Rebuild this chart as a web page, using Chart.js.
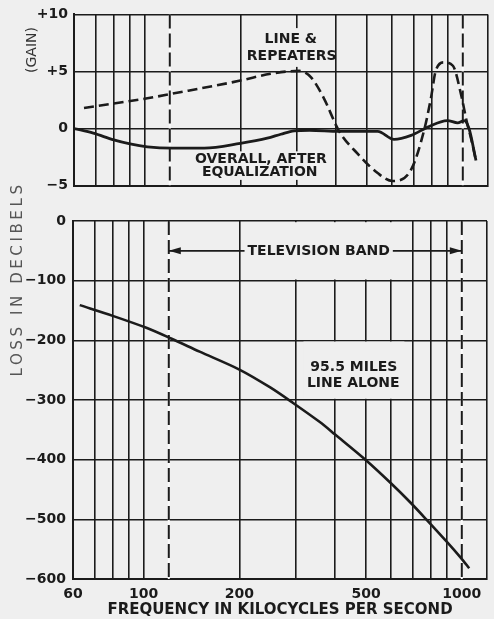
<!DOCTYPE html>
<html><head><meta charset="utf-8">
<script src="https://cdn.jsdelivr.net/npm/chart.js@4"></script>
<style>
html,body{margin:0;padding:0;background:#efefef;}
#wrap{position:relative;width:494px;height:619px;overflow:hidden;}
canvas{position:absolute;left:0;}
#top{top:0;}
#bot{top:170px;}
</style></head><body>
<div id="wrap"><canvas id="top" width="494" height="200"></canvas><canvas id="bot" width="494" height="449"></canvas></div>
<script>
// ---- data ----
const xGridValues = [60, 70, 80, 90, 100, 120, 200, 300, 400, 500, 600, 700, 800, 900, 1000, 1200];
const xLabelValues = [60, 100, 200, 500, 1000];
const bandEdges = [120, 1000];
const bandArrowLevel = -50;

const gainTickValues = [-5, 0, 5, 10];
const gainTickLabels = ['\u22125', '0', '+5', '+10'];
const lossTickValues = [-600, -500, -400, -300, -200, -100, 0];
const lossTickLabels = ['\u2212600', '\u2212500', '\u2212400', '\u2212300', '\u2212200', '\u2212100', '0'];

const lineRepFreq = [64.5, 80, 102, 122, 200, 249, 306, 333, 366, 408, 467, 540, 601, 688, 755, 794, 822, 873, 931, 989, 1028, 1060, 1100];
const lineRepGain = [1.8, 2.2, 2.65, 3.05, 4.2, 4.8, 5.05, 4.5, 2.65, -0.2, -2.2, -3.9, -4.6, -3.6, -0.2, 2.65, 5.05, 5.8, 5.5, 2.9, 0.65, -0.8, -2.8];

const overallFreq = [60, 69, 80, 90, 102, 122, 154, 200, 243, 268, 295, 330, 408, 540, 608, 688, 773, 894, 963, 1010, 1046, 1100];
const overallGain = [0, -0.4, -1.0, -1.35, -1.6, -1.72, -1.72, -1.3, -0.85, -0.5, -0.2, -0.15, -0.25, -0.25, -0.95, -0.6, 0.1, 0.7, 0.5, 0.7, 0.0, -2.8];

const lineAloneFreq = [63, 80, 102, 122, 150, 200, 250, 295, 358, 400, 500, 600, 687, 773, 895, 995, 1055];
const lineAloneLoss = [-141, -159, -179, -197, -219, -249, -279, -305, -337, -358, -401, -440, -471, -500, -537, -565, -582];

// ---- styling ----
const INK = '#1b1b1b';
const PAPER = '#efefef';
const FONT = "'DejaVu Sans', sans-serif";
Chart.defaults.font.family = FONT;
Chart.defaults.color = INK;

const pts = (xs, ys) => xs.map((v, i) => ({x: v, y: ys[i]}));

function markerSets(yMin, yMax) {
  const sets = [];
  bandEdges.forEach(f => {
    sets.push({data: [{x: f, y: yMax}, {x: f, y: yMin}], borderColor: INK, borderWidth: 2, borderDash: [14, 5], pointRadius: 0, order: 1});
    sets.push({data: [{x: f, y: yMax}, {x: f, y: yMin}], borderColor: '#fbfbfb', borderWidth: 2, pointRadius: 0, order: 2});
  });
  return sets;
}

function xScale(showLabels) {
  return {
    type: 'logarithmic', min: 60, max: 1200, position: 'bottom',
    afterBuildTicks: s => { s.ticks = xGridValues.map(v => ({value: v})); },
    grid: {color: c => (c.tick && bandEdges.includes(c.tick.value)) ? 'rgba(0,0,0,0)' : INK, lineWidth: 1.6, drawTicks: false},
    border: {color: INK, width: 2},
    ticks: {display: showLabels, autoSkip: false, maxRotation: 0, minRotation: 0, padding: 7,
      font: {size: 14, weight: 'bold'}, color: INK,
      callback: v => xLabelValues.includes(v) ? String(v) : ''},
    title: {display: showLabels, text: 'FREQUENCY IN KILOCYCLES PER SECOND', color: INK,
      font: {size: 15, weight: 'bold'}, padding: {top: 0, bottom: 0}},
    afterFit: s => { s.height = showLabels ? 40 : 11; }
  };
}

function yScale(min, max, vals, labels, width, pad) {
  return {
    min: min, max: max,
    afterBuildTicks: s => { s.ticks = vals.map(v => ({value: v})); },
    grid: {color: INK, lineWidth: 1.6, drawTicks: false},
    border: {color: INK, width: 2},
    ticks: {padding: pad, font: {size: 14, weight: 'bold'}, color: INK,
      callback: v => labels[vals.indexOf(v)]},
    afterFit: s => { s.width = width; }
  };
}

function decor(cfg) {
  return {
    id: 'decor',
    beforeDatasetsDraw(chart) {
      const {ctx, scales: {x, y}} = chart;
      ctx.save();
      ctx.fillStyle = PAPER;
      (cfg.boxes || []).forEach(b => {
        const l = x.getPixelForValue(b.x0), r = x.getPixelForValue(b.x1);
        const t = y.getPixelForValue(b.y1), bt = y.getPixelForValue(b.y0);
        ctx.fillRect(l, t, r - l, bt - t);
      });
      ctx.restore();
    },
    afterDatasetsDraw(chart) {
      const {ctx, scales: {x, y}} = chart;
      ctx.save();
      ctx.textAlign = 'center';
      ctx.textBaseline = 'middle';
      (cfg.texts || []).forEach(t => {
        ctx.font = 'bold 14px ' + FONT;
        const px = x.getPixelForValue(t.x), py = y.getPixelForValue(t.y);
        if (t.bg) {
          const w = ctx.measureText(t.text).width;
          ctx.fillStyle = PAPER;
          ctx.fillRect(px - w / 2 - t.bg, py - 7, w + 2 * t.bg, 14);
        }
        ctx.fillStyle = INK;
        ctx.fillText(t.text, px, py + 0.5);
      });
      (cfg.arrows || []).forEach(a => {
        const px = x.getPixelForValue(a.x), py = y.getPixelForValue(a.y);
        ctx.fillStyle = INK;
        ctx.beginPath();
        ctx.moveTo(px, py);
        ctx.lineTo(px - a.dir * 12, py - 3.5);
        ctx.lineTo(px - a.dir * 12, py + 3.5);
        ctx.closePath();
        ctx.fill();
      });
      ctx.restore();
    },
    afterDraw(chart) {
      const ctx = chart.ctx;
      (cfg.vtitles || []).forEach(t => {
        ctx.save();
        ctx.translate(t.cx, t.cy);
        ctx.rotate(-Math.PI / 2);
        ctx.font = t.font;
        ctx.letterSpacing = t.spacing || '0px';
        ctx.fillStyle = t.color;
        ctx.textAlign = 'center';
        ctx.textBaseline = 'middle';
        ctx.fillText(t.text, 0, 0);
        ctx.restore();
      });
    }
  };
}

// ---- top panel: gain ----
new Chart(document.getElementById('top'), {
  type: 'line',
  data: {datasets: [
    {label: 'Line & repeaters', data: pts(lineRepFreq, lineRepGain), borderColor: INK, borderWidth: 2.6,
      borderDash: [10, 5], pointRadius: 0, cubicInterpolationMode: 'monotone', order: 0},
    {label: 'Overall, after equalization', data: pts(overallFreq, overallGain), borderColor: INK, borderWidth: 2.8,
      pointRadius: 0, cubicInterpolationMode: 'monotone', order: 0},
    ...markerSets(-5, 10)
  ]},
  options: {
    responsive: false, animation: false, devicePixelRatio: 1,
    layout: {padding: {top: 13, right: 6, left: 0, bottom: 0}},
    plugins: {legend: {display: false}, tooltip: {enabled: false}},
    scales: {x: xScale(false), y: yScale(-5, 10, gainTickValues, gainTickLabels, 74, 6)}
  },
  plugins: [decor({
    boxes: [{x0: 206, x1: 395, y0: 5.4, y1: 8.8}, {x0: 140, x1: 392, y0: -4.5, y1: -2.0}],
    texts: [
      {text: 'LINE &', x: 288, y: 7.85},
      {text: 'REPEATERS', x: 290, y: 6.4},
      {text: 'OVERALL, AFTER', x: 232, y: -2.7},
      {text: 'EQUALIZATION', x: 230, y: -3.8}
    ],
    vtitles: [{text: '(GAIN)', cx: 32, cy: 50, font: '14px ' + FONT, color: '#333'}]
  })]
});

// ---- bottom panel: loss ----
new Chart(document.getElementById('bot'), {
  type: 'line',
  data: {datasets: [
    {label: '95.5 miles line alone', data: pts(lineAloneFreq, lineAloneLoss), borderColor: INK, borderWidth: 2.6,
      pointRadius: 0, tension: 0.3, order: 0},
    {label: 'Television band', data: bandEdges.map(f => ({x: f, y: bandArrowLevel})), borderColor: INK, borderWidth: 1.6,
      pointRadius: 0, order: 0},
    ...markerSets(-600, 0)
  ]},
  options: {
    responsive: false, animation: false, devicePixelRatio: 1,
    layout: {padding: {top: 51, right: 6, left: 0, bottom: 0}},
    plugins: {legend: {display: false}, tooltip: {enabled: false}},
    scales: {x: xScale(true), y: yScale(-600, 0, lossTickValues, lossTickLabels, 73, 7)}
  },
  plugins: [decor({
    boxes: [{x0: 206, x1: 660, y0: -98, y1: -2}, {x0: 318, x1: 660, y0: -298, y1: -202}],
    texts: [
      {text: 'TELEVISION BAND', x: 355, y: bandArrowLevel, bg: 3},
      {text: '95.5 MILES', x: 458, y: -245},
      {text: 'LINE ALONE', x: 456, y: -272}
    ],
    arrows: [{x: bandEdges[0], y: bandArrowLevel, dir: -1}, {x: bandEdges[1], y: bandArrowLevel, dir: 1}],
    vtitles: [{text: 'LOSS IN DECIBELS', cx: 18, cy: 109, font: '15px ' + FONT, color: '#555', spacing: '3.6px'}]
  })]
});
</script>
</body></html>
